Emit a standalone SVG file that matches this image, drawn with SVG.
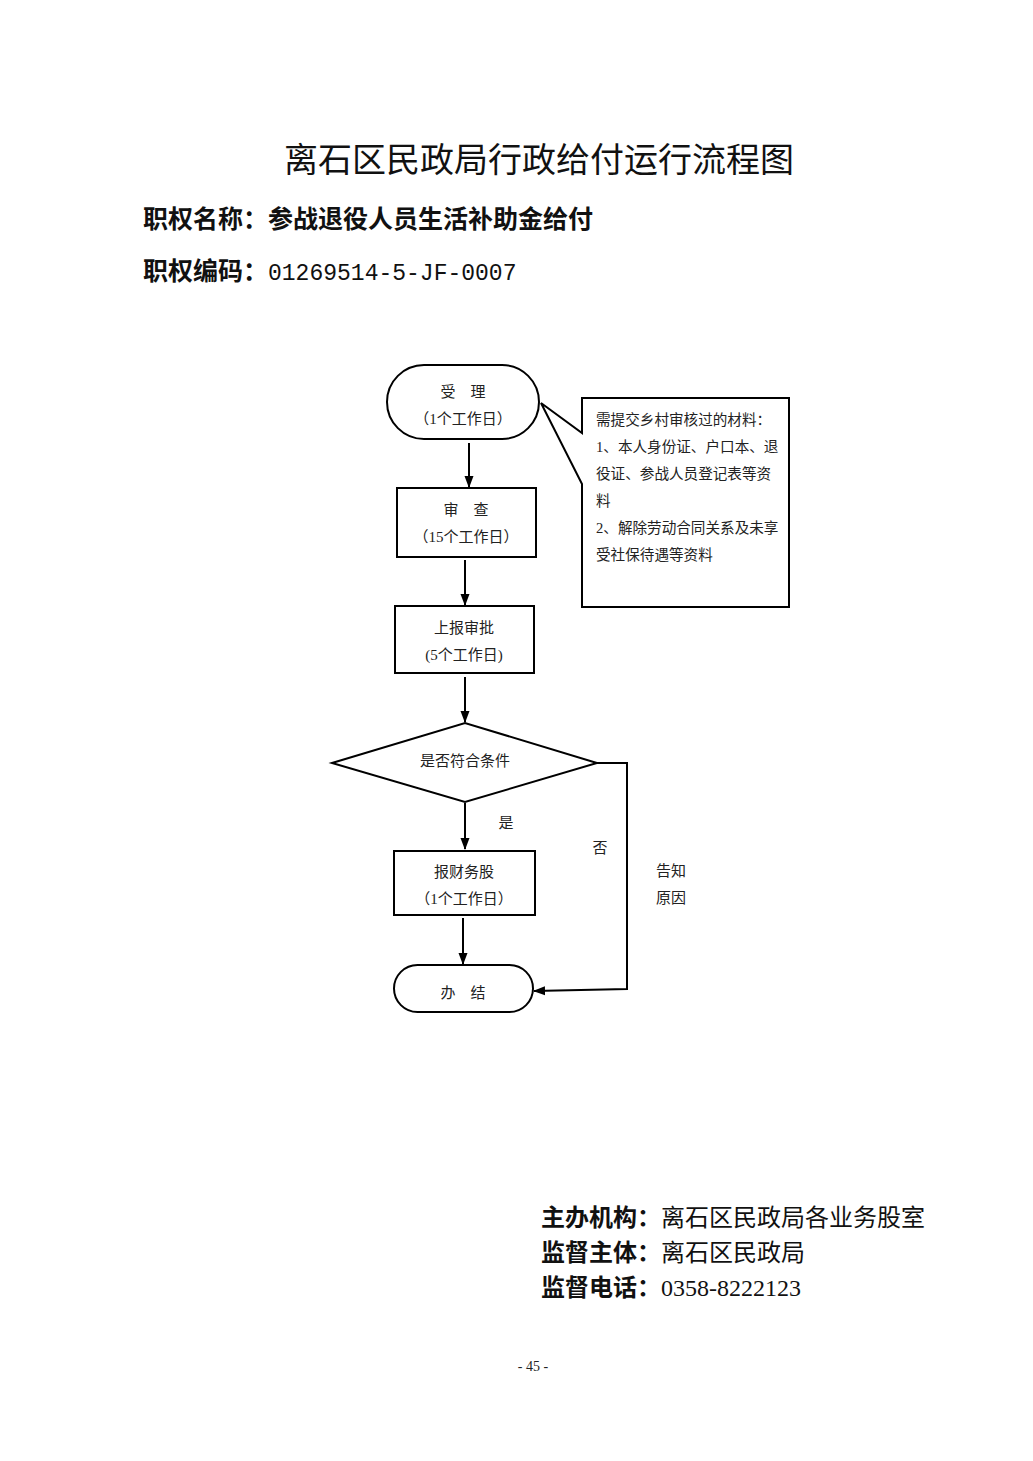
<svg xmlns="http://www.w3.org/2000/svg" width="1033" height="1461" viewBox="0 0 1033 1461">
<defs>
<marker id="arr" markerWidth="12" markerHeight="10" refX="11" refY="5" orient="auto" markerUnits="userSpaceOnUse">
<path d="M0,0.5 L12,5 L0,9.5 Z" fill="#000"/>
</marker>
<style>
.shape{fill:#fff;stroke:#000;stroke-width:2}
.ln{fill:none;stroke:#000;stroke-width:2}
.t{font-family:"Liberation Serif","Noto Sans CJK SC",serif;font-size:15px;fill:#222;text-anchor:middle}
.tl{font-family:"Liberation Serif","Noto Sans CJK SC",serif;font-size:14.6px;fill:#222}
.hd{font-family:"Noto Sans CJK SC",sans-serif;fill:#111}
</style>
</defs>
<rect width="1033" height="1461" fill="#fff"/>
<g id="header">
<text class="hd" x="539" y="172" font-size="34" text-anchor="middle">离石区民政局行政给付运行流程图</text>
<text class="hd" x="143" y="228" font-size="25" font-weight="bold">职权名称：参战退役人员生活补助金给付</text>
<text class="hd" x="143" y="280" font-size="25" font-weight="bold">职权编码：<tspan font-family="Liberation Mono, monospace" font-size="23" font-weight="normal">01269514-5-JF-0007</tspan></text>
</g>
<g id="n1">
<rect class="shape" x="387" y="365" width="152" height="74" rx="37" ry="37"/>
<text class="t" x="463" y="397">受　理</text>
<text class="t" x="463" y="424">（1个工作日）</text>
</g>
<g id="note">
<path class="shape" d="M582,398 H789 V607 H582 V484 L541,403 L582,433 Z"/>
<text class="tl" x="596" y="425">需提交乡村审核过的材料：</text>
<text class="tl" x="596" y="452">1、本人身份证、户口本、退</text>
<text class="tl" x="596" y="479">役证、参战人员登记表等资</text>
<text class="tl" x="596" y="506">料</text>
<text class="tl" x="596" y="533">2、解除劳动合同关系及未享</text>
<text class="tl" x="596" y="560">受社保待遇等资料</text>
</g>
<g id="n2">
<rect class="shape" x="397" y="488" width="139" height="69"/>
<text class="t" x="466" y="515">审　查</text>
<text class="t" x="466" y="542">（15个工作日）</text>
</g>
<g id="n3">
<rect class="shape" x="395" y="606" width="139" height="67"/>
<text class="t" x="464" y="633">上报审批</text>
<text class="t" x="464" y="660">(5个工作日)</text>
</g>
<g id="n4">
<polygon class="shape" points="332,763 465,723 597,763 465,802"/>
<text class="t" x="465" y="766">是否符合条件</text>
</g>
<g id="n5">
<rect class="shape" x="394" y="851" width="141" height="64"/>
<text class="t" x="464" y="877">报财务股</text>
<text class="t" x="464" y="904">（1个工作日）</text>
</g>
<g id="n6">
<rect class="shape" x="394" y="965" width="139" height="47" rx="23.5" ry="23.5"/>
<text class="t" x="463" y="998">办　结</text>
</g>
<g id="connectors">
<line class="ln" x1="469" y1="443" x2="469" y2="487" marker-end="url(#arr)"/>
<line class="ln" x1="465" y1="560" x2="465" y2="605" marker-end="url(#arr)"/>
<line class="ln" x1="465" y1="677" x2="465" y2="722" marker-end="url(#arr)"/>
<line class="ln" x1="465" y1="803" x2="465" y2="849" marker-end="url(#arr)"/>
<line class="ln" x1="463" y1="918" x2="463" y2="964" marker-end="url(#arr)"/>
<polyline class="ln" points="597,763 627,763 627,989 534,991" marker-end="url(#arr)"/>
<text class="t" x="506" y="828">是</text>
<text class="t" x="600" y="853">否</text>
<text class="t" x="671" y="876">告知</text>
<text class="t" x="671" y="903">原因</text>
</g>
<g id="footer">
<text class="hd" x="541" y="1226" font-size="24"><tspan font-weight="bold">主办机构：</tspan>离石区民政局各业务股室</text>
<text class="hd" x="541" y="1261" font-size="24"><tspan font-weight="bold">监督主体：</tspan>离石区民政局</text>
<text class="hd" x="541" y="1296" font-size="24"><tspan font-weight="bold">监督电话：</tspan><tspan font-family="Liberation Serif, serif">0358-8222123</tspan></text>
<text x="533" y="1371" font-family="Liberation Serif, serif" font-size="14" text-anchor="middle" fill="#222">- 45 -</text>
</g>
</svg>
